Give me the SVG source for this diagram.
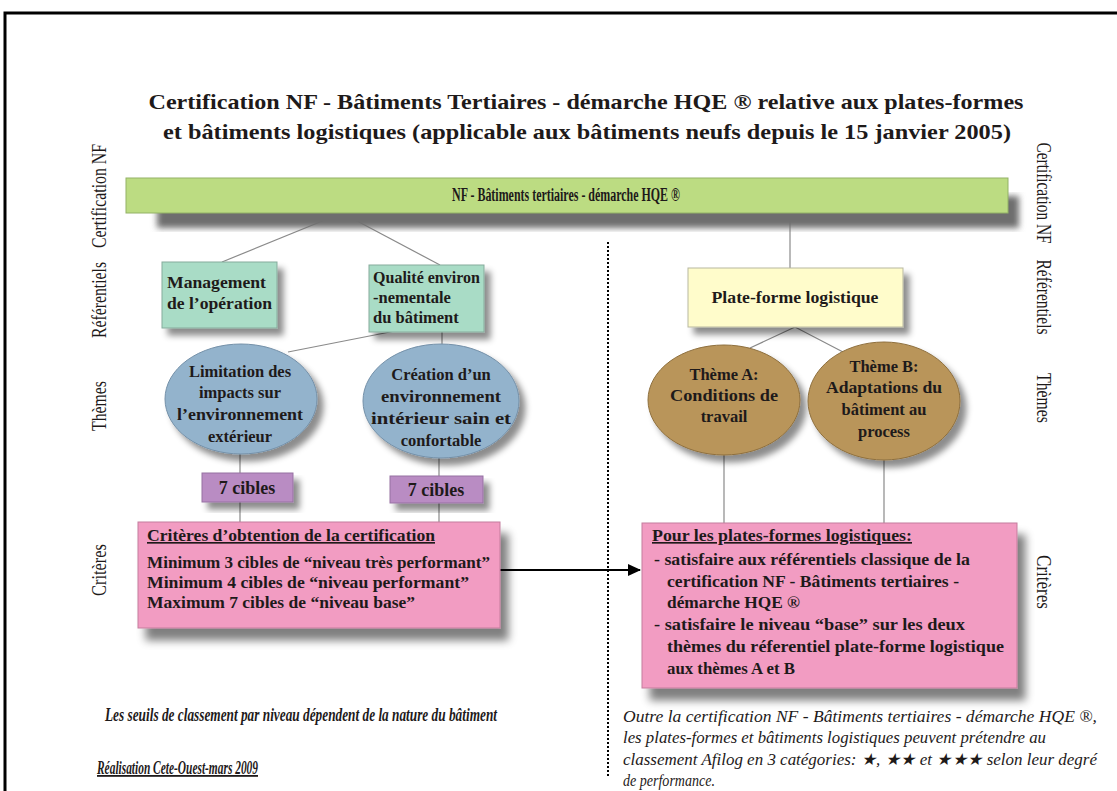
<svg xmlns="http://www.w3.org/2000/svg" width="1117" height="791" viewBox="0 0 1117 791" font-family="'Liberation Serif', 'Times New Roman', serif">
<style>
text{font-family:"Liberation Serif","Times New Roman",serif;fill:#1e1a1a}
.b{font-weight:bold}
.t{font-size:22px;font-weight:bold}
.lab{font-size:20px}
.n{font-size:16.5px;font-weight:bold}
.c{text-anchor:middle}
.it{font-style:italic;font-size:16.5px}
.conn{stroke:#8a8a8a;stroke-width:1.2;fill:none}
</style>
<defs>
<filter id="sh" x="-15%" y="-15%" width="140%" height="150%">
<feGaussianBlur in="SourceAlpha" stdDeviation="3"/>
<feOffset dx="6" dy="7" result="o"/>
<feFlood flood-color="#000" flood-opacity="0.45"/>
<feComposite in2="o" operator="in"/>
<feMerge><feMergeNode/><feMergeNode in="SourceGraphic"/></feMerge>
</filter>
<filter id="sh2" x="-15%" y="-15%" width="140%" height="160%">
<feGaussianBlur in="SourceAlpha" stdDeviation="4"/>
<feOffset dx="8" dy="12" result="o"/>
<feFlood flood-color="#000" flood-opacity="0.5"/>
<feComposite in2="o" operator="in"/>
<feMerge><feMergeNode/><feMergeNode in="SourceGraphic"/></feMerge>
</filter>
<filter id="blur"><feGaussianBlur stdDeviation="3"/></filter>
<marker id="arr" markerWidth="13" markerHeight="12" refX="12" refY="6" orient="auto" markerUnits="userSpaceOnUse" viewBox="0 0 13 12">
<path d="M0,0 L13,6 L0,12 Z" fill="#000"/>
</marker>
</defs>
<rect width="1117" height="791" fill="#fff"/>
<path d="M5,791 V13 H1117" fill="none" stroke="#000" stroke-width="3"/>

<g id="title">
<text class="t c" x="586" y="109" textLength="875" lengthAdjust="spacingAndGlyphs">Certification NF - Bâtiments Tertiaires - démarche HQE ®  relative aux plates-formes</text>
<text class="t c" x="587" y="139" textLength="848" lengthAdjust="spacingAndGlyphs">et bâtiments logistiques  (applicable aux bâtiments neufs depuis le 15 janvier 2005)</text>
</g>

<g id="labels-left">
<text class="lab c" transform="translate(106,196) rotate(-90)" textLength="104" lengthAdjust="spacingAndGlyphs">Certification NF</text>
<text class="lab c" transform="translate(106,300) rotate(-90)" textLength="76" lengthAdjust="spacingAndGlyphs">Référentiels</text>
<text class="lab c" transform="translate(106,406) rotate(-90)" textLength="50" lengthAdjust="spacingAndGlyphs">Thèmes</text>
<text class="lab c" transform="translate(106,570) rotate(-90)" textLength="52" lengthAdjust="spacingAndGlyphs">Critères</text>
</g>
<g id="labels-right">
<text class="lab c" transform="translate(1037,193) rotate(90)" textLength="101" lengthAdjust="spacingAndGlyphs">Certification NF</text>
<text class="lab c" transform="translate(1037,297) rotate(90)" textLength="75" lengthAdjust="spacingAndGlyphs">Référentiels</text>
<text class="lab c" transform="translate(1037,398) rotate(90)" textLength="50" lengthAdjust="spacingAndGlyphs">Thèmes</text>
<text class="lab c" transform="translate(1037,582) rotate(90)" textLength="54" lengthAdjust="spacingAndGlyphs">Critères</text>
</g>

<g id="connectors">
<path class="conn" d="M342,213 L222,262"/>
<path class="conn" d="M342,213 L440,265"/>
<path class="conn" d="M395,331 L288,352"/>
<path class="conn" d="M442,332 V346"/>
<path class="conn" d="M240,453 V473 M240,502 V522"/>
<path class="conn" d="M439,458 V476 M439,503 V522"/>
<path class="conn" d="M790,213 V268"/>
<path class="conn" d="M795,327 L750,348 M795,327 L843,352"/>
<path class="conn" d="M724,455 V523 M884,460 V523"/>
<path d="M500,570 H640" stroke="#000" stroke-width="2" fill="none" marker-end="url(#arr)"/>
<path d="M608,242 V778" stroke="#000" stroke-width="2" stroke-dasharray="2,2" fill="none"/>
</g>

<g id="nf-bar">
<rect x="157" y="196" width="862" height="32" fill="#6e6e6e" filter="url(#blur)"/>
<rect x="126" y="178" width="882" height="35" fill="#bcdc82" stroke="#93b266" stroke-width="1"/>
<text class="c b" x="566" y="201" style="font-size:18px" textLength="228" lengthAdjust="spacingAndGlyphs">NF - Bâtiments tertiaires - démarche HQE ®</text>
</g>

<g id="management">
<rect x="162" y="262" width="115" height="66" fill="#a9dcc6" stroke="#86ab9c" filter="url(#sh)"/>
<text class="n" x="167" y="288" textLength="99" lengthAdjust="spacingAndGlyphs">Management</text>
<text class="n" x="167" y="309" textLength="105" lengthAdjust="spacingAndGlyphs">de l’opération</text>
</g>

<g id="qualite">
<rect x="369" y="265" width="115" height="67" fill="#a9dcc6" stroke="#86ab9c" filter="url(#sh)"/>
<text class="n" x="373" y="283" textLength="107" lengthAdjust="spacingAndGlyphs">Qualité environ</text>
<text class="n" x="373" y="303">-nementale</text>
<text class="n" x="373" y="323">du bâtiment</text>
</g>

<g id="limitation">
<ellipse cx="241" cy="399" rx="76" ry="55" fill="#93b3cc" stroke="#7490a8" filter="url(#sh)"/>
<text class="n c" x="240" y="377">Limitation des</text>
<text class="n c" x="240" y="398">impacts sur</text>
<text class="n c" x="240" y="420" textLength="126" lengthAdjust="spacingAndGlyphs">l’environnement</text>
<text class="n c" x="240" y="442">extérieur</text>
</g>

<g id="creation">
<ellipse cx="441" cy="401" rx="78" ry="57" fill="#93b3cc" stroke="#7490a8" filter="url(#sh)"/>
<text class="n c" x="441" y="380">Création d’un</text>
<text class="n c" x="441" y="402" textLength="120" lengthAdjust="spacingAndGlyphs">environnement</text>
<text class="n c" x="441" y="424" textLength="140" lengthAdjust="spacingAndGlyphs">intérieur sain et</text>
<text class="n c" x="441" y="446">confortable</text>
</g>

<g id="cibles-1">
<rect x="202" y="473" width="91" height="29" fill="#b98cc3" stroke="#9670a2" filter="url(#sh)"/>
<text class="n c" x="247" y="494" style="font-size:18px">7  cibles</text>
</g>
<g id="cibles-2">
<rect x="390" y="476" width="93" height="27" fill="#b98cc3" stroke="#9670a2" filter="url(#sh)"/>
<text class="n c" x="436" y="496" style="font-size:18px">7 cibles</text>
</g>

<g id="criteres-left">
<rect x="138" y="522" width="362" height="106" fill="#f29cc2" stroke="#c47d9d" filter="url(#sh2)"/>
<text class="n" x="147" y="541" text-decoration="underline" textLength="288" lengthAdjust="spacingAndGlyphs">Critères d’obtention de la certification</text>
<text class="n" x="147" y="568" textLength="343" lengthAdjust="spacingAndGlyphs">Minimum 3 cibles de “niveau très performant”</text>
<text class="n" x="147" y="588" textLength="322" lengthAdjust="spacingAndGlyphs">Minimum 4 cibles de “niveau performant”</text>
<text class="n" x="147" y="608" textLength="268" lengthAdjust="spacingAndGlyphs">Maximum 7 cibles de “niveau base”</text>
</g>

<g id="plateforme">
<rect x="688" y="268" width="215" height="59" fill="#fffccb" stroke="#b8b8a0" filter="url(#sh)"/>
<text class="n c" x="795" y="303" textLength="167" lengthAdjust="spacingAndGlyphs">Plate-forme logistique</text>
</g>

<g id="theme-a">
<ellipse cx="724" cy="400" rx="76" ry="55" fill="#b9955a" stroke="#8e6f3d" filter="url(#sh)"/>
<text class="n c" x="724" y="380">Thème A:</text>
<text class="n c" x="724" y="401" textLength="108" lengthAdjust="spacingAndGlyphs">Conditions de</text>
<text class="n c" x="724" y="422">travail</text>
</g>

<g id="theme-b">
<ellipse cx="884" cy="401" rx="76" ry="59" fill="#b9955a" stroke="#8e6f3d" filter="url(#sh)"/>
<text class="n c" x="884" y="372">Thème B:</text>
<text class="n c" x="884" y="393" textLength="116" lengthAdjust="spacingAndGlyphs">Adaptations du</text>
<text class="n c" x="884" y="415">bâtiment au</text>
<text class="n c" x="884" y="437">process</text>
</g>

<g id="criteres-right">
<rect x="642" y="523" width="375" height="165" fill="#f29cc2" stroke="#c47d9d" filter="url(#sh2)"/>
<text class="n" x="652" y="541" text-decoration="underline" textLength="260" lengthAdjust="spacingAndGlyphs">Pour les plates-formes logistiques:</text>
<text class="n" x="654" y="565" textLength="316" lengthAdjust="spacingAndGlyphs">- satisfaire aux référentiels classique de la</text>
<text class="n" x="667" y="587" textLength="292" lengthAdjust="spacingAndGlyphs">certification NF - Bâtiments tertiaires -</text>
<text class="n" x="667" y="608" textLength="133" lengthAdjust="spacingAndGlyphs">démarche HQE ®</text>
<text class="n" x="654" y="630" textLength="311" lengthAdjust="spacingAndGlyphs">- satisfaire  le  niveau “base” sur les deux</text>
<text class="n" x="667" y="652" textLength="337" lengthAdjust="spacingAndGlyphs">thèmes du réferentiel plate-forme logistique</text>
<text class="n" x="667" y="674" textLength="128" lengthAdjust="spacingAndGlyphs">aux thèmes A et B</text>
</g>

<g id="notes">
<text class="it b" x="105" y="721" style="font-size:18px" textLength="392" lengthAdjust="spacingAndGlyphs">Les  seuils de classement par niveau dépendent de la nature du bâtiment</text>
<text class="it b" x="97" y="774" style="font-size:18px" text-decoration="underline" textLength="161" lengthAdjust="spacingAndGlyphs">Réalisation Cete-Ouest-mars 2009</text>
<text class="it" x="623" y="722" textLength="474" lengthAdjust="spacingAndGlyphs">Outre la certification NF - Bâtiments tertiaires - démarche HQE ®,</text>
<text class="it" x="623" y="743" textLength="423" lengthAdjust="spacingAndGlyphs">les plates-formes et bâtiments logistiques peuvent prétendre au</text>
<text class="it" x="623" y="765" textLength="474" lengthAdjust="spacingAndGlyphs">classement Afilog en 3 catégories: ★, ★★ et  ★★★ selon leur degré</text>
<text class="it" x="623" y="786" textLength="92" lengthAdjust="spacingAndGlyphs">de performance.</text>
</g>
</svg>
